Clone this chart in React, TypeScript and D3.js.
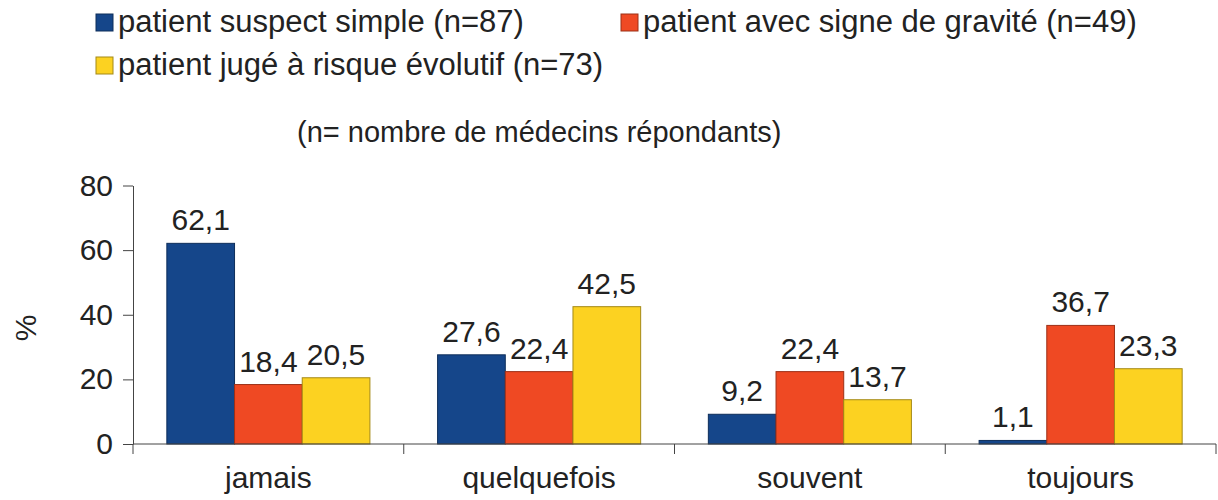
import React, { useEffect, useRef } from "react";
import * as d3 from "d3";

const categories = ["jamais", "quelquefois", "souvent", "toujours"];
const seriesNames = [
  "patient suspect simple (n=87)",
  "patient avec signe de gravité (n=49)",
  "patient jugé à risque évolutif (n=73)",
];
const suspectSimple = [62.1, 27.6, 9.2, 1.1];
const signeGravite = [18.4, 22.4, 22.4, 36.7];
const risqueEvolutif = [20.5, 42.5, 13.7, 23.3];
const yTicks = [0, 20, 40, 60, 80];
const colors = ["#15468a", "#ef4923", "#fcd221"];

const App = () => {
  const ref = useRef(null);

  useEffect(() => {
    const svg = d3.select(ref.current);
    svg.selectAll("*").remove();

    const width = 1218;
    const height = 500;
    const margin = { top: 185.5, right: 2, bottom: 56, left: 133 };
    const font = "Liberation Sans, Arial, sans-serif";
    const series = [suspectSimple, signeGravite, risqueEvolutif];
    const ink = "#222";

    const x = d3
      .scaleBand()
      .domain(categories)
      .range([margin.left, width - margin.right])
      .paddingInner(0)
      .paddingOuter(0);
    const inner = d3
      .scaleBand()
      .domain(d3.range(series.length).map(String))
      .range([0, x.bandwidth()])
      .paddingOuter(0.5)
      .paddingInner(0);
    const y = d3
      .scaleLinear()
      .domain([0, 80])
      .range([height - margin.bottom, margin.top]);

    // bars
    series.forEach((vals, si) => {
      const g = svg.append("g");
      g.selectAll("rect")
        .data(vals)
        .join("rect")
        .attr("x", (d, i) => x(categories[i]) + inner(String(si)))
        .attr("y", (d) => y(d))
        .attr("width", inner.bandwidth())
        .attr("height", (d) => y(0) - y(d))
        .attr("fill", colors[si])
        .attr("stroke", d3.color(colors[si]).darker(1.2))
        .attr("stroke-width", 1);
      g.selectAll("text")
        .data(vals)
        .join("text")
        .attr("x", (d, i) => x(categories[i]) + inner(String(si)) + inner.bandwidth() / 2)
        .attr("y", (d) => y(d) - 13)
        .attr("text-anchor", "middle")
        .attr("font-family", font)
        .attr("font-size", 30)
        .attr("fill", ink)
        .text((d) => String(d).replace(".", ","));
    });

    // y axis
    const yAxis = svg
      .append("g")
      .attr("transform", `translate(${margin.left},0)`)
      .call(d3.axisLeft(y).tickValues(yTicks).tickSize(10).tickSizeOuter(0).tickPadding(10));
    yAxis.select(".domain").attr("stroke", "#444");
    yAxis.selectAll("line").attr("stroke", "#444");
    yAxis
      .selectAll("text")
      .attr("font-family", font)
      .attr("font-size", 30)
      .attr("fill", ink);
    // small extension of y axis below zero
    svg
      .append("line")
      .attr("x1", margin.left)
      .attr("x2", margin.left)
      .attr("y1", y(0))
      .attr("y2", y(0) + 10)
      .attr("stroke", "#444");

    // x axis
    const xg = svg.append("g").attr("transform", `translate(0,${y(0)})`);
    xg.append("line")
      .attr("x1", margin.left)
      .attr("x2", width - margin.right)
      .attr("stroke", "#444");
    xg.selectAll(".sep")
      .data(categories)
      .join("line")
      .attr("x1", (d) => x(d) + x.bandwidth())
      .attr("x2", (d) => x(d) + x.bandwidth())
      .attr("y1", 0)
      .attr("y2", 10)
      .attr("stroke", "#444");
    xg.selectAll("text")
      .data(categories)
      .join("text")
      .attr("x", (d) => x(d) + x.bandwidth() / 2)
      .attr("y", 44)
      .attr("text-anchor", "middle")
      .attr("font-family", font)
      .attr("font-size", 30)
      .attr("fill", ink)
      .text((d) => d);

    // y label
    svg
      .append("text")
      .attr("transform", "translate(36,328) rotate(-90)")
      .attr("text-anchor", "middle")
      .attr("font-family", font)
      .attr("font-size", 30)
      .attr("fill", ink)
      .text("%");

    // subtitle
    svg
      .append("text")
      .attr("x", 297)
      .attr("y", 142)
      .attr("font-family", font)
      .attr("font-size", 29)
      .attr("fill", ink)
      .text("(n= nombre de médecins répondants)");

    // legend
    const legendPos = [
      [96, 14],
      [621, 14],
      [96, 57],
    ];
    seriesNames.forEach((name, i) => {
      const [lx, ly] = legendPos[i];
      svg
        .append("rect")
        .attr("x", lx)
        .attr("y", ly)
        .attr("width", 17)
        .attr("height", 17)
        .attr("fill", colors[i])
        .attr("stroke", d3.color(colors[i]).darker(1.2));
      svg
        .append("text")
        .attr("x", lx + 22)
        .attr("y", ly + 18)
        .attr("font-family", font)
        .attr("font-size", 31)
        .attr("fill", ink)
        .text(name);
    });
  }, []);

  return (
    <svg
      ref={ref}
      width={1218}
      height={500}
      style={{ position: "absolute", left: 0, top: 0, background: "#fff" }}
    ></svg>
  );
};

export default App;
